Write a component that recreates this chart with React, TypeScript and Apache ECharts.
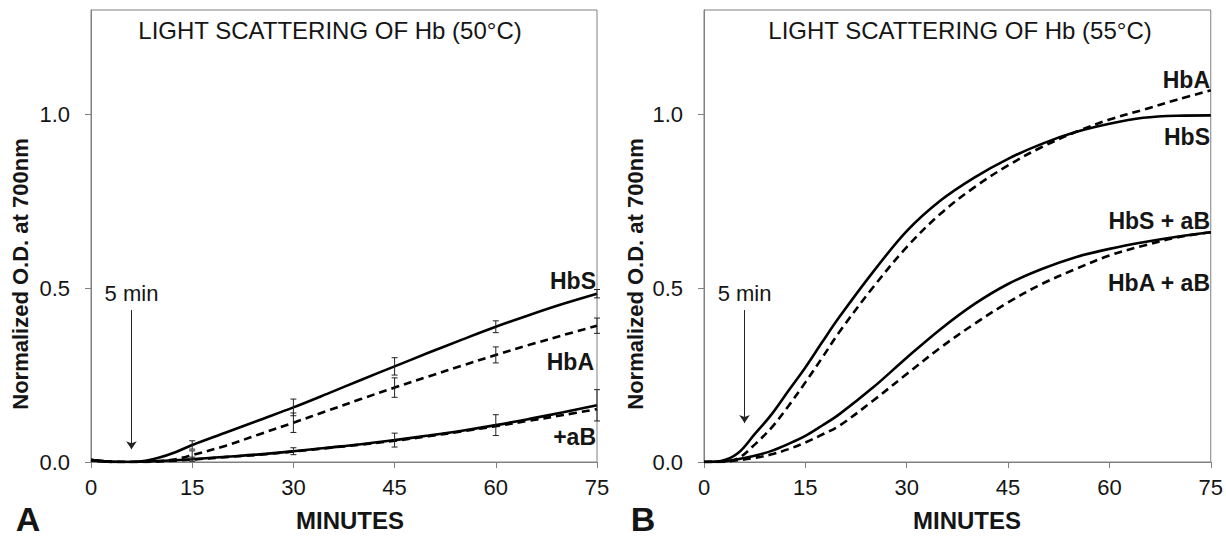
import React, { useEffect, useRef } from "react";
import * as echarts from "echarts";

// ---- Panel A (50°C) ----
const timeA = [0, 2.5, 5, 7.5, 10, 12.5, 15, 20, 25, 30, 35, 40, 45, 50, 55, 60, 65, 70, 75];
const hbsA = [0.006, 0.001, 0, 0.002, 0.012, 0.028, 0.049, 0.085, 0.121, 0.157, 0.196, 0.236, 0.275, 0.314, 0.352, 0.389, 0.423, 0.455, 0.484];
const hbaA = [0.005, 0.001, 0, 0, 0.002, 0.008, 0.02, 0.047, 0.08, 0.113, 0.147, 0.181, 0.214, 0.246, 0.277, 0.308, 0.337, 0.365, 0.392];
const hbsAbA = [0.006, 0.001, 0, 0.001, 0.003, 0.005, 0.008, 0.015, 0.022, 0.031, 0.041, 0.051, 0.063, 0.076, 0.09, 0.106, 0.124, 0.143, 0.163];
const hbaAbA = [0.005, 0.001, 0, 0, 0.002, 0.004, 0.007, 0.014, 0.021, 0.03, 0.04, 0.05, 0.061, 0.074, 0.088, 0.103, 0.119, 0.135, 0.152];
const errTimes = [15, 30, 45, 60, 75];
const errHbS = [0.012, 0.024, 0.025, 0.017, 0.012];
const errHbA = [0.012, 0.028, 0.028, 0.023, 0.022];
const errAb = [0.006, 0.01, 0.02, 0.03, 0.045];

// ---- Panel B (55°C) ----
const timeB = [0, 2.5, 5, 7.5, 10, 12.5, 15, 17.5, 20, 25, 30, 35, 40, 45, 50, 55, 60, 65, 70, 75];
const hbsB = [0, 0.003, 0.025, 0.08, 0.137, 0.205, 0.272, 0.345, 0.416, 0.546, 0.664, 0.752, 0.818, 0.872, 0.915, 0.949, 0.973, 0.99, 0.996, 0.997];
const hbaB = [0, 0, 0.01, 0.05, 0.099, 0.161, 0.229, 0.3, 0.373, 0.502, 0.618, 0.714, 0.79, 0.853, 0.906, 0.949, 0.985, 1.013, 1.042, 1.069];
const hbsAbB = [0, 0.001, 0.008, 0.018, 0.032, 0.052, 0.075, 0.105, 0.137, 0.214, 0.3, 0.382, 0.454, 0.512, 0.555, 0.589, 0.613, 0.632, 0.648, 0.661];
const hbaAbB = [0, 0.001, 0.005, 0.012, 0.022, 0.037, 0.056, 0.079, 0.104, 0.176, 0.253, 0.329, 0.397, 0.459, 0.512, 0.555, 0.594, 0.622, 0.646, 0.661];

const xTicks = [0, 15, 30, 45, 60, 75];
const yTicks = [0, 0.5, 1.0];
const arrowA = { x: 6, top: 0.437, tip: 0.037 };
const arrowB = { x: 6, top: 0.437, tip: 0.112 };

const FONT = "'Liberation Sans', Arial, Helvetica, sans-serif";
const INK = "#151515";
const AXIS = "#808080";

function pairs(t: number[], v: number[]) {
  return t.map((x, i) => [x, v[i]]);
}
function errData(t: number[], v: number[], errs: number[]) {
  return errTimes.map((x, i) => {
    const c = v[t.indexOf(x)];
    return [x, c - errs[i], c + errs[i]];
  });
}

function xAxis(gridIndex: number) {
  return {
    type: "value",
    gridIndex,
    min: 0,
    max: 75,
    interval: 15,
    axisLine: { show: true, lineStyle: { color: AXIS, width: 1 } },
    axisTick: { show: true, length: 6, lineStyle: { color: AXIS }, customValues: xTicks },
    axisLabel: { fontSize: 22, color: INK, fontFamily: FONT, margin: 14, customValues: xTicks },
    splitLine: { show: false },
  };
}
function yAxis(gridIndex: number) {
  return {
    type: "value",
    gridIndex,
    min: 0,
    max: 1.3,
    interval: 0.5,
    axisLine: { show: true, lineStyle: { color: AXIS, width: 1 } },
    axisTick: { show: true, length: 6, lineStyle: { color: AXIS }, customValues: yTicks },
    axisLabel: {
      fontSize: 22,
      color: INK,
      fontFamily: FONT,
      margin: 21,
      customValues: yTicks,
      formatter: (v: number) => v.toFixed(1),
    },
    splitLine: { show: false },
  };
}

function line(name: string, idx: number, data: number[][], dashed: boolean, extra: any = {}) {
  return {
    name,
    type: "line",
    xAxisIndex: idx,
    yAxisIndex: idx,
    data,
    showSymbol: false,
    smooth: 0.35,
    lineStyle: { color: "#000", width: 2.6, type: dashed ? [8, 5] : "solid" },
    z: 3,
    ...extra,
  };
}

function arrowMark(a: { x: number; top: number; tip: number }) {
  return {
    silent: true,
    symbol: ["none", "arrow"],
    symbolSize: 8,
    lineStyle: { color: "#222", width: 1, type: "solid" },
    label: {
      show: true,
      position: "start",
      formatter: () => "5 min",
      fontSize: 22,
      color: INK,
      fontFamily: FONT,
      distance: 6,
    },
    data: [[{ coord: [a.x, a.top] }, { coord: [a.x, a.tip] }]],
  };
}

function errSeries(idx: number, data: number[][]) {
  return {
    type: "custom",
    xAxisIndex: idx,
    yAxisIndex: idx,
    data,
    z: 4,
    silent: true,
    renderItem: (params: any, api: any) => {
      const x = api.value(0);
      const p1 = api.coord([x, api.value(1)]);
      const p2 = api.coord([x, api.value(2)]);
      const w = 3;
      const st = { stroke: "#222", lineWidth: 1 };
      return {
        type: "group",
        children: [
          { type: "line", shape: { x1: p1[0], y1: p1[1], x2: p2[0], y2: p2[1] }, style: st },
          { type: "line", shape: { x1: p1[0] - w, y1: p1[1], x2: p1[0] + w, y2: p1[1] }, style: st },
          { type: "line", shape: { x1: p2[0] - w, y1: p2[1], x2: p2[0] + w, y2: p2[1] }, style: st },
        ],
      };
    },
  };
}

function txt(text: string, x: number, y: number, size: number, bold: boolean, align = "center", rotation = 0) {
  return {
    type: "text",
    x,
    y,
    rotation,
    style: {
      text,
      fontSize: size,
      fontWeight: bold ? "bold" : "normal",
      fontFamily: FONT,
      fill: INK,
      align,
      verticalAlign: "middle",
    },
    z: 10,
  };
}

export default function App() {
  const ref = useRef<HTMLDivElement>(null);
  useEffect(() => {
    if (!ref.current) return;
    const chart = echarts.init(ref.current, null, { renderer: "svg" });
    chart.setOption({
      animation: false,
      backgroundColor: "#fff",
      grid: [
        { left: 91, top: 10, width: 506, height: 452, show: true, borderColor: AXIS, borderWidth: 1, backgroundColor: "transparent" },
        { left: 704, top: 10, width: 508, height: 452, show: true, borderColor: AXIS, borderWidth: 1, backgroundColor: "transparent" },
      ],
      xAxis: [xAxis(0), xAxis(1)],
      yAxis: [yAxis(0), yAxis(1)],
      series: [
        line("HbS", 0, pairs(timeA, hbsA), false, { markLine: arrowMark(arrowA) }),
        line("HbA", 0, pairs(timeA, hbaA), true),
        line("HbS + aB", 0, pairs(timeA, hbsAbA), false),
        line("HbA + aB", 0, pairs(timeA, hbaAbA), true),
        errSeries(0, [
          ...errData(timeA, hbsA, errHbS),
          ...errData(timeA, hbaA, errHbA),
          ...errData(timeA, hbsAbA, errAb),
        ]),
        line("HbS", 1, pairs(timeB, hbsB), false, { markLine: arrowMark(arrowB) }),
        line("HbA", 1, pairs(timeB, hbaB), true),
        line("HbS + aB", 1, pairs(timeB, hbsAbB), false),
        line("HbA + aB", 1, pairs(timeB, hbaAbB), true),
      ],
      graphic: [
        txt("LIGHT SCATTERING OF Hb (50°C)", 330, 30, 24, false),
        txt("LIGHT SCATTERING OF Hb (55°C)", 960, 30, 24, false),
        txt("Normalized O.D. at 700nm", 20, 274, 22, true, "center", Math.PI / 2),
        txt("Normalized O.D. at 700nm", 635, 274, 22, true, "center", Math.PI / 2),
        txt("MINUTES", 350, 520, 24, true),
        txt("MINUTES", 967, 520, 24, true),
        txt("A", 28, 519, 34, true),
        txt("B", 643, 519, 34, true),
        txt("HbS", 596, 281, 23, true, "right"),
        txt("HbA", 594, 362, 23, true, "right"),
        txt("+aB", 596, 437, 23, true, "right"),
        txt("HbA", 1210, 80, 23, true, "right"),
        txt("HbS", 1210, 137, 23, true, "right"),
        txt("HbS + aB", 1210, 221, 23, true, "right"),
        txt("HbA + aB", 1210, 283, 23, true, "right"),
      ],
    });
    return () => chart.dispose();
  }, []);
  return (
    <div
      ref={ref}
      style={{ position: "fixed", left: 0, top: 0, width: 1226, height: 537, background: "#fff" }}
    />
  );
}
